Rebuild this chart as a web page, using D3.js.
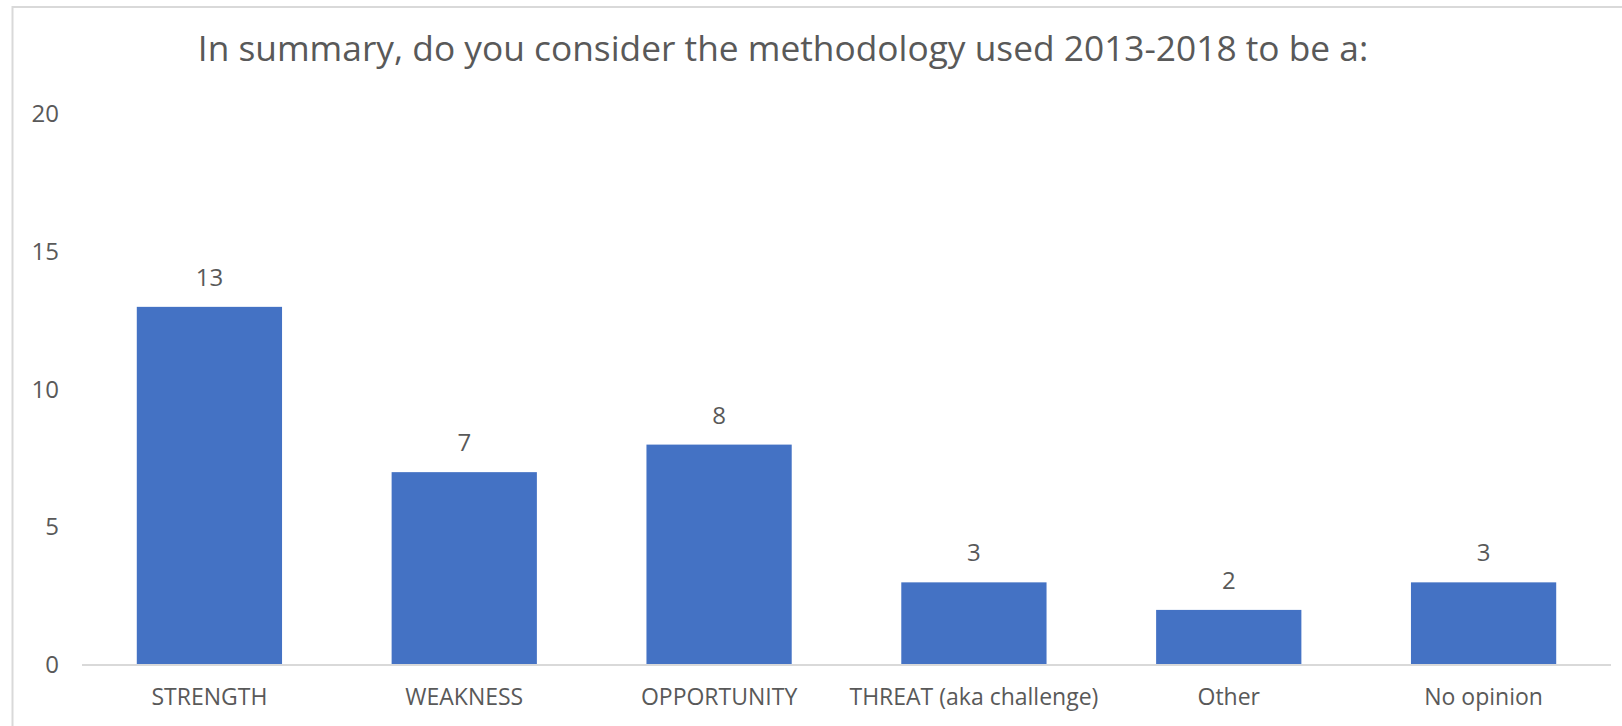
<!DOCTYPE html>
<html>
<head>
<meta charset="utf-8">
<script src="https://cdn.jsdelivr.net/npm/d3@7"></script>
<style>
  html, body { margin: 0; padding: 0; background: #fff; }
  svg { display: block; }
  text { font-family: "Open Sans", "Noto Sans", sans-serif; fill: #595959; }
</style>
</head>
<body>
<svg id="chart" width="1622" height="726"></svg>
<script>
const title = "In summary, do you consider the methodology used 2013-2018 to be a:";
const categories = ["STRENGTH", "WEAKNESS", "OPPORTUNITY", "THREAT (aka challenge)", "Other", "No opinion"];
const values = [13, 7, 8, 3, 2, 3];
const yTicks = [0, 5, 10, 15, 20];

const W = 1622, H = 726;
const plot = { left: 82, right: 1611, top: 114, bottom: 665 };

const svg = d3.select("#chart");

// frame lines (top and left)
svg.append("line").attr("x1", 12).attr("x2", W).attr("y1", 7).attr("y2", 7)
  .attr("stroke", "#d9d9d9").attr("stroke-width", 2);
svg.append("line").attr("x1", 12.5).attr("x2", 12.5).attr("y1", 6).attr("y2", H)
  .attr("stroke", "#d9d9d9").attr("stroke-width", 2);

const x = d3.scaleBand()
  .domain(categories)
  .range([plot.left, plot.right])
  .paddingInner(0.43)
  .paddingOuter(0.215);

const y = d3.scaleLinear()
  .domain([0, 20])
  .range([plot.bottom, plot.top]);

// title
svg.append("text")
  .attr("x", 783).attr("y", 61)
  .attr("text-anchor", "middle")
  .style("font-size", "35.3px")
  .text(title);

// y axis labels (no line)
const yAxis = d3.axisLeft(y).tickValues(yTicks).tickSize(0).tickPadding(0);
const yg = svg.append("g").attr("transform", `translate(59,0)`).call(yAxis);
yg.select(".domain").remove();
yg.selectAll("text").style("font-size", "24px").attr("fill", "#595959").style("font-family", null);

// bars
svg.append("g").selectAll("rect")
  .data(categories)
  .join("rect")
  .attr("x", d => x(d))
  .attr("width", x.bandwidth())
  .attr("y", (d, i) => y(values[i]))
  .attr("height", (d, i) => y(0) - y(values[i]))
  .attr("fill", "#4472c4");

// x axis
const xAxis = d3.axisBottom(x).tickSize(0).tickPadding(0);
const xg = svg.append("g").attr("transform", `translate(0,${plot.bottom})`).call(xAxis);
xg.select(".domain").attr("stroke", "#d9d9d9").attr("stroke-width", 2)
  .attr("d", `M${plot.left},0H${plot.right}`);
xg.selectAll("text").style("font-size", "23px").attr("fill", "#595959")
  .style("font-family", null).attr("dy", null).attr("y", 40);

// value labels
svg.append("g").selectAll("text")
  .data(categories)
  .join("text")
  .attr("x", d => x(d) + x.bandwidth() / 2)
  .attr("y", (d, i) => y(values[i]) - 21)
  .attr("text-anchor", "middle")
  .style("font-size", "24px")
  .text((d, i) => values[i]);
</script>
</body>
</html>
